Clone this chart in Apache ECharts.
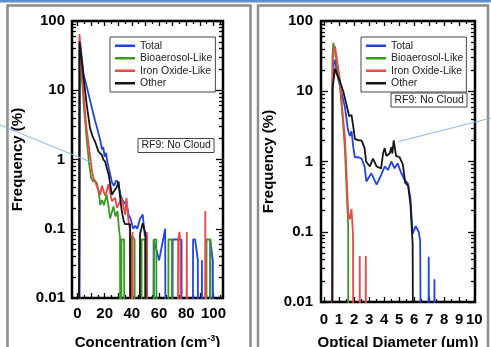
<!DOCTYPE html>
<html><head><meta charset="utf-8">
<script src="https://cdn.jsdelivr.net/npm/echarts@6/dist/echarts.min.js"></script>
<style>html,body{margin:0;padding:0;background:#fff}#c{width:491px;height:347px}</style>
</head><body><div id="c"></div><script>
const SERIES_NAMES = ['Total', 'Bioaerosol-Like', 'Iron Oxide-Like', 'Other'];
const SERIES_COLORS = ['#1f44e6', '#3a9a1e', '#f04646', '#151515'];

// Left panel: frequency (%) vs concentration (cm^-3); 0 = empty bin
const LEFT_TOTAL = [
  [1,0],[2,50],[4.5,17],[7,11],[9,7.5],[11,5.2],[13,3.6],[15,2.6],[17,1.8],[18,1.4],[19,1.5],[20,1.1],[21,1.25],[22,0.93],[23,0.75],[25.5,0.46],[27,0.42],[28.5,0.5],[30,0.46],[31.6,0.31],[33,0.26],[35,0.23],[36,0.25],[37.5,0.16],[39,0.14],[41,0.1],[42.5,0.11],[44,0.1],[46,0.14],[48,0.16],[49.5,0.08],[51,0.075],[51.5,0],
  [55.5,0],[56,0.07],[58,0.05],[60,0.035],[61,0.035],[63,0.07],[64.5,0.1],[65.3,0],
  [69.5,0],[70,0.07],[76.5,0.07],[77,0],
  [84.5,0],[85,0.07],[86.5,0.07],[88.5,0.035],[89,0],
  [91,0],[91.5,0.035],[92,0],
  [97,0],[97.6,0.07],[99.5,0.035],[100.5,0.035],[101,0]
];
const LEFT_BIO = [
  [0.8,0],[1.5,45],[3,18],[5,5],[7,1.8],[8.5,0.9],[10,0.55],[11.5,0.48],[13,0.5],[14.5,0.44],[16,0.3],[16.7,0.22],[18,0.26],[19.5,0.22],[21.5,0.31],[23,0.2],[24,0.14],[26.5,0.21],[28,0.15],[29.5,0.18],[30.5,0.1],[31.3,0.075],[31.8,0],
  [32.2,0],[32.4,0.07],[34.3,0.07],[34.7,0],
  [39.6,0],[40,0.08],[42,0.07],[42.4,0],
  [46.8,0],[47.2,0.07],[49.7,0.07],[50.1,0],
  [55.9,0],[56.3,0.07],[58,0.07],[58.4,0],
  [66.5,0],[66.9,0.07],[69.4,0.07],[69.8,0],
  [94.5,0],[94.9,0.07],[97.8,0.07],[98.2,0]
];
const LEFT_IRON = [
  [0.8,0],[1.5,65],[4,12],[6.5,3],[8.5,1.5],[10.6,0.7],[11.8,0.54],[13.5,0.45],[15,0.38],[16.7,0.31],[18,0.42],[19.1,0.35],[20.5,0.3],[22,0.38],[22.8,0.44],[24,0.33],[25.3,0.25],[27.7,0.28],[29,0.2],[30.2,0.21],[31.5,0.25],[32.6,0.28],[34,0.2],[35,0.16],[36,0.28],[37.5,0.13],[38.5,0.1],[39,0],
  [40,0],[40.5,0.09],[41.2,0],
  [50.3,0],[51,0.09],[51.7,0],
  [73.5,0],[74,0.07],[75,0.09],[75.5,0.07],[76.5,0.07],[77,0],
  [79.8,0],[80.4,0.09],[81,0],
  [93.4,0],[94,0.18],[94.6,0]
];
const LEFT_OTHER = [
  [0.8,0],[1.5,51],[4.4,16],[6.9,6],[9.3,2.8],[11,2.2],[13,1.8],[15.5,1.3],[17.9,1.17],[19,1.0],[20.4,0.93],[21.6,0.75],[23,0.6],[25.3,0.31],[26.5,0.34],[27.7,0.37],[29,0.4],[30.2,0.48],[31.4,0.28],[32.6,0.18],[34,0.13],[35,0.117],[38.7,0.117],[39.3,0],
  [45.5,0],[46,0.085],[47,0.1],[48,0.12],[49,0.1],[50,0.085],[50.5,0]
];

// Right panel: frequency (%) vs optical diameter (um)
const RIGHT_TOTAL = [
  [0.5,0],[0.56,12],[0.65,25],[0.73,28],[0.9,17],[1.06,11.7],[1.25,8],[1.39,6],[1.5,4],[1.6,2.8],[1.72,2.3],[1.83,2.7],[1.95,1.6],[2.05,1.15],[2.3,1.15],[2.5,1.1],[2.7,0.85],[2.82,0.52],[3.15,0.68],[3.5,0.47],[3.8,0.64],[4.04,0.85],[4.26,0.76],[4.48,1.0],[4.7,0.8],[4.9,0.94],[5.1,0.72],[5.36,0.55],[5.58,0.49],[5.75,0.3],[5.9,0.093],[6.1,0.12],[6.3,0.1],[6.4,0.075],[6.55,0],
  [6.9,0],[6.97,0.044],[7.04,0],
  [7.28,0],[7.35,0.021],[7.42,0]
];
const RIGHT_BIO = [
  [0.5,0],[0.56,30],[0.62,49],[0.8,30],[1.06,12],[1.25,4],[1.39,1.5],[1.61,0.12],[1.63,0]
];
const RIGHT_IRON = [
  [0.5,0],[0.58,25],[0.65,38],[0.73,44],[0.9,25],[1.06,14.5],[1.2,6],[1.3,3.5],[1.39,2.2],[1.45,1.2],[1.61,0.18],[1.72,0.15],[1.83,0.21],[1.93,0.093],[2.0,0],
  [2.33,0],[2.38,0.045],[2.43,0],
  [2.73,0],[2.78,0.045],[2.83,0]
];
const RIGHT_OTHER = [
  [0.55,0],[0.57,11],[0.73,21],[0.84,18],[1.06,13.8],[1.28,10],[1.5,6.4],[1.68,4.4],[1.83,4.6],[1.95,3.1],[2.06,2.1],[2.3,2.0],[2.5,2.0],[2.7,1.55],[2.8,1.0],[3.05,0.85],[3.26,1.1],[3.5,0.85],[3.8,0.8],[3.93,1.3],[4.04,1.55],[4.15,1.2],[4.37,1.3],[4.48,1.6],[4.55,1.3],[4.64,2.0],[4.8,1.2],[5.03,1.15],[5.25,0.9],[5.4,0.5],[5.6,0.45],[5.75,0.25],[5.9,0.067],[6.0,0]
];

// Ticks
const Y_TICKS = [0.01, 0.1, 1, 10, 100];
const Y_TICK_LABELS = ['0.01', '0.1', '1', '10', '100'];
const Y_MINOR = [0.02,0.03,0.04,0.05,0.06,0.07,0.08,0.09,0.2,0.3,0.4,0.5,0.6,0.7,0.8,0.9,2,3,4,5,6,7,8,9,20,30,40,50,60,70,80,90];
const LEFT_X_LABELS = [0, 20, 40, 60, 80, 100];
const LEFT_X_MAJOR = [0, 10, 20, 30, 40, 50, 60, 70, 80, 90, 100];
const LEFT_X_MINOR = [5, 15, 25, 35, 45, 55, 65, 75, 85, 95, 105];
const RIGHT_X_LABELS = [0, 1, 2, 3, 4, 5, 6, 7, 8, 9, 10];
const RIGHT_X_MINOR = [0.5, 1.5, 2.5, 3.5, 4.5, 5.5, 6.5, 7.5, 8.5, 9.5];

const FONT = 'Liberation Sans, Arial, Helvetica, sans-serif';
const FLOOR = 1e-7;
const toData = pts => pts.map(p => [p[0], p[1] > 0 ? p[1] : FLOOR]);

function xAxes(g, min, max, labels, major, minor, name, nameGap, margin) {
  const base = {type: 'value', gridIndex: g, min, max, splitLine: {show: false}, axisLine: {show: false, onZero: false}};
  const tick = (vals, len) => ({show: true, inside: true, length: len, customValues: vals, lineStyle: {color: '#000', width: 1.3}});
  return [
    Object.assign({}, base, {position: 'bottom', axisTick: tick(major, 5),
      axisLabel: {show: true, customValues: labels, margin, color: '#000', fontWeight: 'bold', fontSize: 15, fontFamily: FONT},
      name, nameLocation: 'middle', nameGap,
      nameTextStyle: {color: '#000', fontWeight: 'bold', fontSize: 15, fontFamily: FONT,
        rich: {sup: {fontSize: 9, fontWeight: 'bold', fontFamily: FONT, color: '#000', padding: [0, 0, 9, 0]}}}}),
    Object.assign({}, base, {position: 'bottom', axisTick: tick(minor, 3), axisLabel: {show: false}}),
    Object.assign({}, base, {position: 'top', axisTick: tick(major, 5), axisLabel: {show: false}}),
    Object.assign({}, base, {position: 'top', axisTick: tick(minor, 3), axisLabel: {show: false}})
  ];
}
function yAxes(g, nameGap, margin) {
  const base = {type: 'log', logBase: 10, gridIndex: g, min: 0.01, max: 100, splitLine: {show: false}, axisLine: {show: false, onZero: false}};
  const tick = (vals, len) => ({show: true, inside: true, length: len, customValues: vals, lineStyle: {color: '#000', width: 1.3}});
  return [
    Object.assign({}, base, {position: 'left', axisTick: tick(Y_TICKS, 7),
      axisLabel: {show: true, customValues: Y_TICKS, margin, color: '#000', fontWeight: 'bold', fontSize: 15, fontFamily: FONT,
        formatter: v => Y_TICK_LABELS[Y_TICKS.findIndex(t => Math.abs(Math.log10(t) - Math.log10(v)) < 1e-6)] || ''},
      name: 'Frequency (%)', nameLocation: 'middle', nameGap,
      nameTextStyle: {color: '#000', fontWeight: 'bold', fontSize: 15, fontFamily: FONT}}),
    Object.assign({}, base, {position: 'left', axisTick: tick(Y_MINOR, 4), axisLabel: {show: false}}),
    Object.assign({}, base, {position: 'right', axisTick: tick(Y_TICKS, 7), axisLabel: {show: false}}),
    Object.assign({}, base, {position: 'right', axisTick: tick(Y_MINOR, 4), axisLabel: {show: false}})
  ];
}

const LEFT_SETS = [LEFT_TOTAL, LEFT_BIO, LEFT_IRON, LEFT_OTHER];
const RIGHT_SETS = [RIGHT_TOTAL, RIGHT_BIO, RIGHT_IRON, RIGHT_OTHER];
const series = [];
[LEFT_SETS, RIGHT_SETS].forEach((sets, gi) => {
  sets.forEach((pts, i) => {
    series.push({
      type: 'line', name: SERIES_NAMES[i], xAxisIndex: gi * 4, yAxisIndex: gi * 4,
      data: toData(pts), showSymbol: false, symbol: 'none', clip: true,
      lineStyle: {color: SERIES_COLORS[i], width: 1.8}, itemStyle: {color: SERIES_COLORS[i]},
      z: 3 + i
    });
  });
});

const legendBase = {
  orient: 'vertical', icon: 'rect', itemWidth: 20, itemHeight: 2.5, itemGap: 1,
  padding: [3, 3, 3, 5], backgroundColor: '#fff', borderColor: '#444', borderWidth: 1,
  textStyle: {fontSize: 10.5, fontFamily: FONT, color: '#222', lineHeight: 11.5},
  data: SERIES_NAMES, selectedMode: false
};
const boxText = {fontSize: 10.5, fontWeight: 'normal', color: '#222', fontFamily: FONT, lineHeight: 11};
const gridBase = {show: true, borderColor: '#000', borderWidth: 2.5, backgroundColor: 'transparent', containLabel: false, outerBoundsMode: 'none'};

const chart = echarts.init(document.getElementById('c'), null, {renderer: 'canvas'});
chart.setOption({
  animation: false,
  backgroundColor: '#fff',
  grid: [
    Object.assign({}, gridBase, {left: 72, top: 21, width: 151, height: 277}),
    Object.assign({}, gridBase, {left: 321, top: 21, width: 154, height: 281})
  ],
  xAxis: [].concat(
    xAxes(0, -4, 107, LEFT_X_LABELS, LEFT_X_MAJOR, LEFT_X_MINOR, 'Concentration (cm{sup|-3})', 36, 8),
    xAxes(1, -0.2, 10.05, RIGHT_X_LABELS, RIGHT_X_LABELS, RIGHT_X_MINOR, 'Optical Diameter (\u03bcm))', 33, 10)
  ),
  yAxis: [].concat(yAxes(0, 47, 7), yAxes(1, 45, 8)),
  legend: [
    Object.assign({}, legendBase, {left: 110, top: 37}),
    Object.assign({}, legendBase, {left: 361, top: 37})
  ],
  title: [
    {text: 'RF9: No Cloud', left: 138, top: 138, padding: [2, 3.5], borderColor: '#444', borderWidth: 1, backgroundColor: '#fff', textStyle: boxText},
    {text: 'RF9: No Cloud', left: 391, top: 93, padding: [1.5, 3.5], borderColor: '#444', borderWidth: 1, backgroundColor: '#fff', textStyle: boxText}
  ],
  graphic: [
    {type: 'rect', z: -10, silent: true, shape: {x: 0, y: 0, width: 491, height: 2.5}, style: {fill: '#5b8fd0'}},
    {type: 'rect', z: -10, silent: true, shape: {x: 7.5, y: 5.5, width: 243, height: 360}, style: {fill: 'none', stroke: '#8c8c8c', lineWidth: 2.5}},
    {type: 'rect', z: -10, silent: true, shape: {x: 258, y: 5.5, width: 230, height: 360}, style: {fill: 'none', stroke: '#8c8c8c', lineWidth: 2.5}},
    {type: 'line', z: 100, silent: true, shape: {x1: 0, y1: 125, x2: 93, y2: 163}, style: {stroke: '#8ab4e6', lineWidth: 1}},
    {type: 'line', z: 100, silent: true, shape: {x1: 398, y1: 141.7, x2: 491, y2: 118}, style: {stroke: '#8ab4e6', lineWidth: 1}}
  ],
  series
});
</script></body></html>
